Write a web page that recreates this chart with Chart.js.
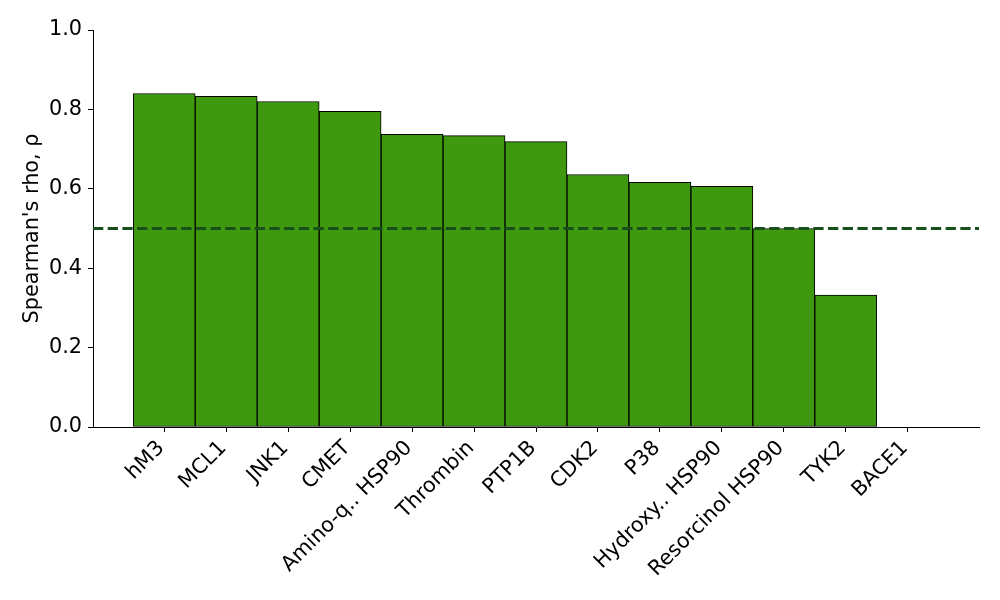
<!DOCTYPE html>
<html lang="en">
<head>
  <meta charset="UTF-8">
  <title>Spearman's rho</title>
  <script src="https://cdn.jsdelivr.net/npm/chart.js@4.4.1/dist/chart.umd.min.js"></script>
  <style>
    html, body { margin: 0; padding: 0; background: #fff; }
    #wrap { width: 1000px; height: 600px; }
  </style>
</head>
<body>
  <div id="wrap"><canvas id="chart" width="1000" height="600"></canvas></div>
  <script>
    const targets = ['hM3', 'MCL1', 'JNK1', 'CMET', 'Amino-q.. HSP90', 'Thrombin', 'PTP1B',
      'CDK2', 'P38', 'Hydroxy.. HSP90', 'Resorcinol HSP90', 'TYK2', 'BACE1'];
    const rho = [0.840, 0.833, 0.820, 0.795, 0.737, 0.734, 0.719, 0.636, 0.616, 0.606, 0.500, 0.332, 0.0];
    const threshold = 0.5;
    const xRange = [-1.15, 13.15];
    const yTicks = [0, 0.2, 0.4, 0.6, 0.8, 1.0];

    const font = 'DejaVu Sans';
    const fsize = 20.8;

    const ctx = document.getElementById('chart').getContext('2d');
    const myChart = new Chart(ctx, {
      data: {
        datasets: [{
          type: 'bar',
          data: rho.map((v, i) => ({ x: i, y: v })),
          backgroundColor: '#3f990e',
          borderColor: '#000',
          borderWidth: 1,
          borderSkipped: false,
          categoryPercentage: 1,
          barPercentage: 1,
          order: 1
        }, {
          type: 'line',
          data: xRange.map(x => ({ x: x, y: threshold })),
          borderColor: '#17501a',
          borderWidth: 2.8,
          borderDash: [10.3, 4.4],
          pointRadius: 0,
          fill: false,
          order: 0
        }]
      },
      options: {
        responsive: false,
        animation: false,
        layout: { padding: { left: 0, top: 30, right: 21, bottom: 0 } },
        plugins: { legend: { display: false }, tooltip: { enabled: false } },
        scales: {
          x: {
            type: 'linear',
            offset: false,
            min: xRange[0],
            max: xRange[1],
            afterBuildTicks: s => { s.ticks = targets.map((t, i) => ({ value: i })); },
            afterFit: s => { s.height = 173; },
            grid: { display: true, offset: false, drawOnChartArea: false, tickLength: 5, tickColor: '#000', tickWidth: 1 },
            border: { display: true, color: '#000', width: 1 },
            ticks: {
              autoSkip: false,
              minRotation: 45,
              maxRotation: 45,
              padding: 4,
              labelOffset: -3,
              color: '#000',
              font: { family: font, size: fsize },
              callback: v => targets[v]
            }
          },
          y: {
            min: 0,
            max: 1,
            afterBuildTicks: s => { s.ticks = yTicks.map(v => ({ value: v })); },
            afterFit: s => { s.width = 93; },
            grid: { display: true, drawOnChartArea: false, tickLength: 5, tickColor: '#000', tickWidth: 1 },
            border: { display: true, color: '#000', width: 1 },
            title: {
              display: true,
              text: "Spearman's rho, ρ",
              color: '#000',
              font: { family: font, size: fsize },
              padding: { top: 20, bottom: 0 }
            },
            ticks: {
              padding: 6,
              color: '#000',
              font: { family: font, size: fsize },
              callback: v => v.toFixed(1)
            }
          }
        }
      }
    });
  </script>
</body>
</html>
